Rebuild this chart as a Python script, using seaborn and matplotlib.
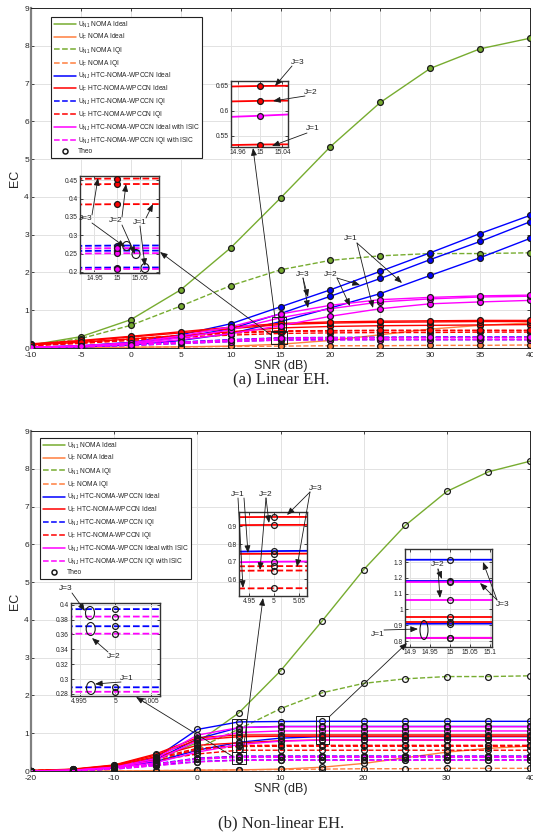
import matplotlib
matplotlib.use("Agg")
import matplotlib.pyplot as plt
import seaborn as sns
from matplotlib.lines import Line2D
from matplotlib.patches import Rectangle, Ellipse
from matplotlib.ticker import FormatStrFormatter

# ------------------------------------------------------------------ data
snr_a = [-10, -5, 0, 5, 10, 15, 20, 25, 30, 35, 40]
snr_b = [-20, -15, -10, -5, 0, 5, 10, 15, 20, 25, 30, 35, 40]

# (a) Linear EH
un1_noma_ideal_a = [0.08, 0.30, 0.75, 1.54, 2.65, 3.97, 5.33, 6.50, 7.40, 7.92, 8.20]
un1_noma_iqi_a = [0.07, 0.25, 0.60, 1.11, 1.65, 2.07, 2.32, 2.44, 2.50, 2.50, 2.52]
uf_noma_ideal_a = [0.00, 0.01, 0.02, 0.03, 0.05, 0.10, 0.20, 0.35, 0.50, 0.60, 0.66]
uf_noma_iqi_a = [0.00, 0.01, 0.02, 0.03, 0.04, 0.05, 0.06, 0.06, 0.07, 0.07, 0.08]
unj_htc_ideal_a = [  # J=1, J=2, J=3
    [0.02, 0.03, 0.08, 0.20, 0.38, 0.70, 1.06, 1.44, 1.92, 2.39, 2.90],
    [0.02, 0.05, 0.12, 0.28, 0.51, 0.91, 1.37, 1.84, 2.34, 2.82, 3.34],
    [0.02, 0.06, 0.15, 0.35, 0.64, 1.09, 1.54, 2.03, 2.52, 3.03, 3.51],
]
uf_htc_ideal_a = [
    [0.08, 0.15, 0.24, 0.33, 0.43, 0.532, 0.57, 0.59, 0.60, 0.61, 0.62],
    [0.10, 0.18, 0.29, 0.40, 0.51, 0.62, 0.66, 0.68, 0.69, 0.70, 0.70],
    [0.11, 0.20, 0.31, 0.43, 0.55, 0.65, 0.69, 0.71, 0.72, 0.73, 0.73],
]
unj_htc_iqi_a = [
    [0.01, 0.03, 0.07, 0.12, 0.17, 0.212, 0.22, 0.22, 0.22, 0.22, 0.22],
    [0.02, 0.04, 0.09, 0.15, 0.21, 0.258, 0.27, 0.275, 0.28, 0.28, 0.28],
    [0.02, 0.04, 0.10, 0.16, 0.22, 0.272, 0.28, 0.285, 0.29, 0.29, 0.29],
]
uf_htc_iqi_a = [
    [0.06, 0.12, 0.20, 0.28, 0.34, 0.385, 0.40, 0.41, 0.41, 0.42, 0.42],
    [0.07, 0.14, 0.23, 0.32, 0.39, 0.44, 0.45, 0.46, 0.46, 0.46, 0.46],
    [0.07, 0.15, 0.24, 0.33, 0.41, 0.455, 0.46, 0.47, 0.47, 0.47, 0.47],
]
unj_isic_ideal_a = [
    [0.02, 0.04, 0.10, 0.22, 0.38, 0.59, 0.84, 1.04, 1.17, 1.22, 1.26],
    [0.02, 0.05, 0.12, 0.27, 0.48, 0.80, 1.04, 1.22, 1.30, 1.35, 1.37],
    [0.02, 0.06, 0.14, 0.32, 0.56, 0.90, 1.13, 1.28, 1.34, 1.38, 1.40],
]
unj_isic_iqi_a = [
    [0.01, 0.03, 0.07, 0.12, 0.17, 0.208, 0.215, 0.22, 0.22, 0.22, 0.22],
    [0.02, 0.04, 0.09, 0.15, 0.20, 0.251, 0.26, 0.265, 0.27, 0.27, 0.27],
    [0.02, 0.04, 0.09, 0.15, 0.21, 0.265, 0.27, 0.275, 0.28, 0.28, 0.28],
]

# (b) Non-linear EH
un1_noma_ideal_b = [0.00, 0.01, 0.08, 0.30, 0.75, 1.54, 2.65, 3.97, 5.33, 6.50, 7.40, 7.92, 8.20]
un1_noma_iqi_b = [0.00, 0.01, 0.07, 0.25, 0.60, 1.11, 1.65, 2.07, 2.32, 2.44, 2.50, 2.50, 2.52]
uf_noma_ideal_b = [0.00, 0.00, 0.00, 0.01, 0.02, 0.03, 0.05, 0.10, 0.20, 0.35, 0.50, 0.60, 0.66]
uf_noma_iqi_b = [0.00, 0.00, 0.00, 0.01, 0.02, 0.03, 0.04, 0.05, 0.06, 0.06, 0.07, 0.07, 0.07]
unj_htc_ideal_b = [
    [0.00, 0.02, 0.08, 0.25, 0.55, 0.76, 0.87, 0.91, 0.91, 0.91, 0.91, 0.91, 0.91],
    [0.00, 0.02, 0.09, 0.30, 0.85, 1.15, 1.18, 1.18, 1.18, 1.18, 1.18, 1.18, 1.18],
    [0.00, 0.02, 0.10, 0.35, 1.10, 1.30, 1.31, 1.315, 1.315, 1.315, 1.315, 1.315, 1.315],
]
uf_htc_ideal_b = [
    [0.01, 0.04, 0.14, 0.38, 0.68, 0.745, 0.80, 0.82, 0.82, 0.82, 0.82, 0.82, 0.82],
    [0.01, 0.04, 0.15, 0.42, 0.82, 0.908, 0.92, 0.92, 0.92, 0.92, 0.92, 0.92, 0.92],
    [0.01, 0.05, 0.16, 0.45, 0.88, 0.953, 0.955, 0.955, 0.955, 0.955, 0.955, 0.955, 0.955],
]
unj_htc_iqi_b = [
    [0.00, 0.01, 0.05, 0.15, 0.25, 0.289, 0.29, 0.29, 0.29, 0.29, 0.29, 0.29, 0.29],
    [0.00, 0.01, 0.06, 0.18, 0.32, 0.371, 0.372, 0.372, 0.372, 0.372, 0.372, 0.372, 0.372],
    [0.00, 0.01, 0.06, 0.19, 0.34, 0.394, 0.395, 0.395, 0.395, 0.395, 0.395, 0.395, 0.395],
]
uf_htc_iqi_b = [
    [0.01, 0.03, 0.11, 0.28, 0.45, 0.55, 0.55, 0.55, 0.55, 0.55, 0.55, 0.55, 0.55],
    [0.01, 0.03, 0.12, 0.32, 0.56, 0.65, 0.655, 0.655, 0.655, 0.655, 0.655, 0.655, 0.655],
    [0.01, 0.04, 0.13, 0.34, 0.60, 0.675, 0.68, 0.68, 0.68, 0.68, 0.68, 0.68, 0.68],
]
unj_isic_ideal_b = [
    [0.00, 0.02, 0.08, 0.22, 0.50, 0.70, 0.79, 0.82, 0.82, 0.82, 0.82, 0.82, 0.82],
    [0.00, 0.02, 0.09, 0.28, 0.80, 1.02, 1.06, 1.06, 1.06, 1.06, 1.06, 1.06, 1.06],
    [0.00, 0.02, 0.10, 0.33, 0.95, 1.15, 1.172, 1.172, 1.172, 1.172, 1.172, 1.172, 1.172],
]
unj_isic_iqi_b = [
    [0.00, 0.01, 0.05, 0.14, 0.24, 0.283, 0.284, 0.284, 0.284, 0.284, 0.284, 0.284, 0.284],
    [0.00, 0.01, 0.06, 0.17, 0.31, 0.361, 0.362, 0.362, 0.362, 0.362, 0.362, 0.362, 0.362],
    [0.00, 0.01, 0.06, 0.18, 0.33, 0.384, 0.385, 0.385, 0.385, 0.385, 0.385, 0.385, 0.385],
]

legend_labels = [
    r"U$_{\mathrm{N1}}$ NOMA Ideal",
    r"U$_{\mathrm{F}}$ NOMA Ideal",
    r"U$_{\mathrm{N1}}$ NOMA IQI",
    r"U$_{\mathrm{F}}$ NOMA IQI",
    r"U$_{\mathrm{NJ}}$ HTC-NOMA-WPCCN Ideal",
    r"U$_{\mathrm{F}}$ HTC-NOMA-WPCCN Ideal",
    r"U$_{\mathrm{NJ}}$ HTC-NOMA-WPCCN IQI",
    r"U$_{\mathrm{F}}$ HTC-NOMA-WPCCN IQI",
    r"U$_{\mathrm{NJ}}$ HTC-NOMA-WPCCN Ideal with ISIC",
    r"U$_{\mathrm{NJ}}$ HTC-NOMA-WPCCN IQI with ISIC",
    "Theo",
]

# ------------------------------------------------------------------ style
GREEN, ORANGE, BLUE, RED, MAG = "#77AC30", "#FF7F3F", "#0000FF", "#FF0000", "#FF00FF"
W, H = 533, 840

sns.set_theme(style="whitegrid")
plt.rcParams["font.family"] = ["Liberation Sans", "DejaVu Sans"]
plt.rcParams["mathtext.fontset"] = "custom"
plt.rcParams["mathtext.rm"] = "Liberation Sans"
plt.rcParams["mathtext.it"] = "Liberation Sans:italic"
plt.rcParams["axes.unicode_minus"] = False

fig = plt.figure(figsize=(W / 100, H / 100), dpi=100)
fig.patch.set_facecolor("white")


def rect_px(x0, y0, x1, y1):
    return [x0 / W, 1 - y1 / H, (x1 - x0) / W, (y1 - y0) / H]


def build_series(g1, o1, g2, o2, bi, ri, bq, rq, mi, mq):
    return [
        (GREEN, "-", [g1]), (ORANGE, "-", [o1]), (GREEN, "--", [g2]), (ORANGE, "--", [o2]),
        (BLUE, "-", bi), (RED, "-", ri), (BLUE, "--", bq), (RED, "--", rq),
        (MAG, "-", mi), (MAG, "--", mq),
    ]


series_a = build_series(un1_noma_ideal_a, uf_noma_ideal_a, un1_noma_iqi_a, uf_noma_iqi_a,
                        unj_htc_ideal_a, uf_htc_ideal_a, unj_htc_iqi_a, uf_htc_iqi_a,
                        unj_isic_ideal_a, unj_isic_iqi_a)
series_b = build_series(un1_noma_ideal_b, uf_noma_ideal_b, un1_noma_iqi_b, uf_noma_iqi_b,
                        unj_htc_ideal_b, uf_htc_ideal_b, unj_htc_iqi_b, uf_htc_iqi_b,
                        unj_isic_ideal_b, unj_isic_iqi_b)


def draw(ax, snr, series, lw, ms, filled):
    for color, ls, group in series:
        for ys in group:
            sns.lineplot(x=snr, y=ys, ax=ax, color=color, linestyle=ls, linewidth=lw,
                         legend=False, errorbar=None)
    for color, ls, group in series:
        for ys in group:
            ax.plot(snr, ys, linestyle="none", marker="o", ms=ms,
                    mfc=(color if filled else "none"), mec="k", mew=0.9, zorder=4)


def style_axes(ax, xlim, xticks, ylim, yticks, fs, main=True):
    ax.set_xlim(*xlim)
    ax.set_ylim(*ylim)
    ax.set_xticks(xticks)
    ax.set_yticks(yticks)
    ax.set_facecolor("white")
    ax.grid(True, color="#e2e2e2", lw=0.7)
    ax.tick_params(direction="in", length=2.5, width=0.6, labelsize=fs, pad=1.5,
                   top=True, right=True, bottom=True, left=True, colors="#262626")
    ax.tick_params(axis="x", pad=(3.0 if main else 1.5))
    for s in ax.spines.values():
        s.set_color("#262626")
        s.set_linewidth(0.7)
    if main:
        ax.spines["left"].set_color("#808080")
        ax.spines["left"].set_linewidth(1.6)
    ax.set_xlabel("")
    ax.set_ylabel("")


legend_handles = [
    Line2D([], [], color=GREEN, ls="-", lw=1.1), Line2D([], [], color=ORANGE, ls="-", lw=1.1),
    Line2D([], [], color=GREEN, ls="--", lw=1.1), Line2D([], [], color=ORANGE, ls="--", lw=1.1),
    Line2D([], [], color=BLUE, ls="-", lw=1.1), Line2D([], [], color=RED, ls="-", lw=1.1),
    Line2D([], [], color=BLUE, ls="--", lw=1.1), Line2D([], [], color=RED, ls="--", lw=1.1),
    Line2D([], [], color=MAG, ls="-", lw=1.1), Line2D([], [], color=MAG, ls="--", lw=1.1),
    Line2D([], [], ls="none", marker="o", mfc="none", mec="k", ms=3.6, mew=1.1),
]

LEG_KW = dict(loc="upper left", bbox_transform=fig.transFigure, fontsize=4.8, frameon=True,
              fancybox=False, framealpha=1, edgecolor="#222222", borderpad=0.4,
              labelspacing=0.34, handlelength=3.3, handletextpad=0.35, borderaxespad=0)

# ------------------------------------------------------------------ (a) main axes
ax_a = fig.add_axes(rect_px(31, 8, 530, 348))
draw(ax_a, snr_a, series_a, 1.0, 4.2, True)
style_axes(ax_a, (-10, 40), list(range(-10, 41, 5)), (0, 9), list(range(0, 10)), 6)
ax_a.set_ylabel("EC", fontsize=9, labelpad=2)
ax_a.set_xlabel("SNR (dB)", fontsize=9, labelpad=0.5)
leg = ax_a.legend(legend_handles, legend_labels, bbox_to_anchor=(51 / W, 1 - 17 / H), **LEG_KW)
leg.get_frame().set_linewidth(0.8)
for (x0, y0, w0, h0) in [(14.12, 0.43, 1.43, 0.40), (14.02, 0.10, 1.66, 0.35)]:
    ax_a.add_patch(Rectangle((x0, y0), w0, h0, fill=False, ec="k", lw=0.7, zorder=6))

# ------------------------------------------------------------------ (b) main axes
ax_b = fig.add_axes(rect_px(31, 431, 530, 771))
draw(ax_b, snr_b, series_b, 1.0, 4.2, False)
style_axes(ax_b, (-20, 40), list(range(-20, 41, 10)), (0, 9), list(range(0, 10)), 6)
ax_b.set_ylabel("EC", fontsize=9, labelpad=2)
ax_b.set_xlabel("SNR (dB)", fontsize=9, labelpad=0.5)
leg = ax_b.legend(legend_handles, legend_labels, bbox_to_anchor=(40 / W, 1 - 438 / H), **LEG_KW)
leg.get_frame().set_linewidth(0.8)
for (x0, y0, w0, h0) in [(4.17, 0.50, 1.68, 0.88), (4.17, 0.19, 1.68, 0.31), (14.27, 0.71, 1.56, 0.75)]:
    ax_b.add_patch(Rectangle((x0, y0), w0, h0, fill=False, ec="k", lw=0.7, zorder=6))

# ------------------------------------------------------------------ insets
insets = [
    (snr_a, series_a, True, (80, 176, 159, 273), (14.918, 15.093), [14.95, 15, 15.05],
     (0.197, 0.462), [0.2, 0.25, 0.3, 0.35, 0.4, 0.45]),
    (snr_a, series_a, True, (231, 81, 288, 147), (14.947, 15.05), [14.96, 15, 15.04],
     (0.527, 0.66), [0.55, 0.6, 0.65]),
    (snr_b, series_b, False, (71, 603, 160, 696), (4.9938, 5.0063), [4.995, 5, 5.005],
     (0.2773, 0.4022), [0.28, 0.30, 0.32, 0.34, 0.36, 0.38, 0.40]),
    (snr_b, series_b, False, (239, 512, 307, 596), (4.93, 5.066), [4.95, 5, 5.05],
     (0.506, 0.981), [0.6, 0.7, 0.8, 0.9]),
    (snr_b, series_b, False, (405, 549, 492, 647), (14.887, 15.105), [14.9, 14.95, 15, 15.05, 15.1],
     (0.762, 1.383), [0.8, 0.9, 1.0, 1.1, 1.2, 1.3]),
]
for snr, series, filled, box, xl, xt, yl, yt in insets:
    ia = fig.add_axes(rect_px(*box), zorder=10)
    draw(ia, snr, series, 1.3, 4.2, filled)
    style_axes(ia, xl, xt, yl, yt, 4.8, main=False)
    ia.xaxis.set_major_formatter(FormatStrFormatter("%g"))
    ia.yaxis.set_major_formatter(FormatStrFormatter("%g"))
    for s in ia.spines.values():
        s.set_color("#333333")
        s.set_linewidth(1.0)

# ------------------------------------------------------------------ overlay annotations (pixel coords)
ov = fig.add_axes([0, 0, 1, 1], zorder=50)
ov.set_xlim(0, W)
ov.set_ylim(H, 0)
ov.axis("off")
ov.patch.set_alpha(0)

AP = dict(arrowstyle="-|>,head_length=0.55,head_width=0.22", color="k", lw=0.6,
          shrinkA=0, shrinkB=0, mutation_scale=8)


def arrow(p0, p1):
    ov.annotate("", xy=p1, xytext=p0, arrowprops=AP)


labels = [
    # (a) main
    ("J=3", (303, 274), [(308, 297), (308, 308)]),
    ("J=2", (331, 274), [(360, 285), (350, 306)]),
    ("J=1", (351, 239), [(402, 283), (373, 308)]),
    # (a) left inset
    ("J=3", (86, 219), [(98, 178), (125, 247)]),
    ("J=2", (116, 221), [(126, 184), (135, 254)]),
    ("J=1", (140, 222), [(153, 204), (145, 266)]),
    # (a) middle inset
    ("J=3", (298, 62), [(275, 86)]),
    ("J=2", (311, 92), [(273, 101)]),
    ("J=1", (313, 129), [(272, 146)]),
    # (b) left inset
    ("J=3", (66, 589), [(85, 611)]),
    ("J=2", (114, 656), [(92, 638)]),
    ("J=1", (127, 678), [(95, 684)]),
    # (b) middle inset
    ("J=1", (238, 494), [(248, 553), (243, 588)]),
    ("J=2", (266, 494), [(269, 523), (260, 570)]),
    ("J=3", (316, 488), [(287, 515), (297, 567)]),
    # (b) right inset
    ("J=2", (438, 565), [(442, 579), (440, 598)]),
    ("J=3", (503, 604), [(483, 562), (480, 583)]),
    ("J=1", (378, 634), [(418, 629)]),
]
for txt, (tx, ty), targets in labels:
    ov.text(tx, ty, txt, fontsize=6, ha="center", va="center", color="#222222")
    for (px, py) in targets:
        sx = tx + (6 if px > tx + 6 else (-6 if px < tx - 6 else 0))
        sy = ty + (4 if py > ty + 4 else (-4 if py < ty - 4 else 0))
        arrow((sx, sy), (px, py))

connectors = [
    ((275, 318), (253, 148)),
    ((271, 335), (160, 252)),
    ((232, 756), (136, 697)),
    ((243, 752), (263, 598)),
    ((329, 717), (407, 643)),
]
for p0, p1 in connectors:
    arrow(p0, p1)

ellipses = [
    (126.7, 246, 8, 9), (136, 254, 8, 9), (145, 268, 8, 9),
    (90, 613, 9, 13), (90.7, 629, 9, 13), (91, 688, 9, 13),
    (424, 630, 8, 19),
]
for (cx, cy, ew, eh) in ellipses:
    ov.add_patch(Ellipse((cx, cy), ew, eh, fill=False, ec="k", lw=0.8))

# ------------------------------------------------------------------ captions
fig.text(281 / W, 1 - 380 / H, "(a) Linear EH.", ha="center", va="center",
         fontsize=12, family="Liberation Serif")
fig.text(281 / W, 1 - 823 / H, "(b) Non-linear EH.", ha="center", va="center",
         fontsize=12, family="Liberation Serif")

fig.savefig("out.png", dpi=100, facecolor="white")
